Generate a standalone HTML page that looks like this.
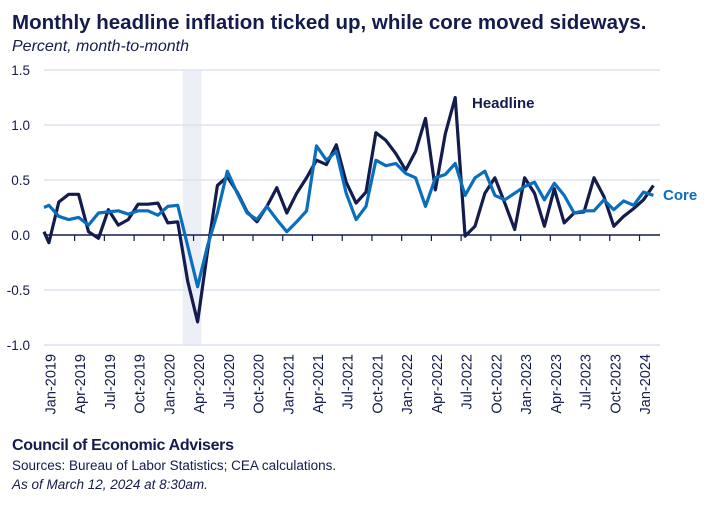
<!DOCTYPE html>
<html><head><meta charset="utf-8"><style>
body{margin:0;background:#fff;width:709px;height:510px;overflow:hidden;font-family:"Liberation Sans",sans-serif;}
svg{display:block}
</style></head><body>
<svg width="709" height="510" xmlns="http://www.w3.org/2000/svg">
<text x="12" y="29" font-size="20.5" font-weight="bold" fill="#141b4d">Monthly headline inflation ticked up, while core moved sideways.</text>
<text x="12" y="51" font-size="16" font-style="italic" fill="#141b4d">Percent, month-to-month</text>
<g id="plot"></g>
<text x="472" y="108" font-size="15" font-weight="bold" fill="#141b4d">Headline</text>
<text x="663" y="200" font-size="15" font-weight="bold" fill="#0a6ebd">Core</text>
<text x="12" y="450" font-size="16" font-weight="bold" fill="#141b4d" textLength="222">Council of Economic Advisers</text>
<text x="12" y="470" font-size="13.5" fill="#141b4d">Sources: Bureau of Labor Statistics; CEA calculations.</text>
<text x="12" y="489" font-size="13.5" font-style="italic" fill="#141b4d">As of March 12, 2024 at 8:30am.</text>
</svg>
<script>
const months=["Dec-2018","Jan-2019","Feb-2019","Mar-2019","Apr-2019","May-2019","Jun-2019","Jul-2019","Aug-2019","Sep-2019","Oct-2019","Nov-2019","Dec-2019","Jan-2020","Feb-2020","Mar-2020","Apr-2020","May-2020","Jun-2020","Jul-2020","Aug-2020","Sep-2020","Oct-2020","Nov-2020","Dec-2020","Jan-2021","Feb-2021","Mar-2021","Apr-2021","May-2021","Jun-2021","Jul-2021","Aug-2021","Sep-2021","Oct-2021","Nov-2021","Dec-2021","Jan-2022","Feb-2022","Mar-2022","Apr-2022","May-2022","Jun-2022","Jul-2022","Aug-2022","Sep-2022","Oct-2022","Nov-2022","Dec-2022","Jan-2023","Feb-2023","Mar-2023","Apr-2023","May-2023","Jun-2023","Jul-2023","Aug-2023","Sep-2023","Oct-2023","Nov-2023","Dec-2023","Jan-2024","Feb-2024"];
const headline=[0.03,-0.07,0.30,0.37,0.37,0.03,-0.03,0.23,0.09,0.14,0.28,0.28,0.29,0.11,0.12,-0.42,-0.79,-0.15,0.45,0.53,0.39,0.21,0.12,0.26,0.43,0.20,0.38,0.52,0.68,0.64,0.82,0.48,0.29,0.39,0.93,0.86,0.74,0.59,0.76,1.06,0.41,0.92,1.25,-0.01,0.08,0.38,0.52,0.29,0.05,0.52,0.38,0.08,0.42,0.11,0.20,0.21,0.52,0.35,0.08,0.17,0.24,0.32,0.45];
const core=[0.25,0.27,0.17,0.14,0.16,0.09,0.20,0.21,0.22,0.19,0.22,0.22,0.18,0.26,0.27,-0.10,-0.47,-0.10,0.20,0.58,0.38,0.20,0.14,0.26,0.14,0.03,0.12,0.22,0.81,0.68,0.76,0.38,0.14,0.26,0.68,0.63,0.65,0.56,0.52,0.26,0.52,0.55,0.65,0.36,0.52,0.58,0.36,0.32,0.38,0.44,0.48,0.32,0.47,0.36,0.20,0.22,0.22,0.32,0.23,0.31,0.27,0.39,0.36];
const yTicks=[1.5,1.0,0.5,0.0,-0.5,-1.0];
const yTickLabels=["1.5","1.0","0.5","0.0","-0.5","-1.0"];
const recessionStart=14.5, recessionEnd=16.4;
const NS="http://www.w3.org/2000/svg";
const L=44,R=660;
function x(i){return 39+i*9.91;}
function y(v){return 235-v*110;}
const g=document.getElementById('plot');
function mk(t,a){const e=document.createElementNS(NS,t);for(const k in a)e.setAttribute(k,a[k]);g.appendChild(e);return e;}
const rb=mk('rect',{x:x(recessionStart),y:y(1.5),width:x(recessionEnd)-x(recessionStart),height:y(-1.0)-y(1.5),fill:'#eceff5'});


yTicks.forEach((v,k)=>{
  if(v!==0){const gl=mk('line',{x1:L,x2:R,y1:y(v),y2:y(v),stroke:'#dde2ee','stroke-width':1.5});
  
  }
  const t=mk('text',{x:30,y:y(v)+5,'text-anchor':'end','font-size':13.5,fill:'#141b4d'});
  t.textContent=yTickLabels[k];
  
  
});
const z=mk('line',{x1:L,x2:R,y1:y(0),y2:y(0),stroke:'#141b4d','stroke-width':1.5});


for(let i=1;i<months.length;i+=3){
  const tx=x(i)-4;
  if(i>1){const tk=mk('line',{x1:tx,x2:tx,y1:y(0),y2:y(0)+6,stroke:'#141b4d','stroke-width':1.2});
  
  }
  const lx=x(i)+1.5, ly=354;
  const t=mk('text',{x:lx,y:ly,'text-anchor':'end','font-size':14.5,fill:'#141b4d',transform:`rotate(-90 ${lx} ${ly})`,dy:'5'});
  t.textContent=months[i];
  
  
}
function path(arr){return arr.map((v,i)=>(i?'L':'M')+Math.max(L,x(i)).toFixed(1)+','+y(v).toFixed(1)).join(' ');}
const ph=mk('path',{d:path(headline),fill:'none',stroke:'#141b4d','stroke-width':3.2,'stroke-linejoin':'round'});


const pc=mk('path',{d:path(core),fill:'none',stroke:'#0a6ebd','stroke-width':3.2,'stroke-linejoin':'round'});


</script>
</body></html>
